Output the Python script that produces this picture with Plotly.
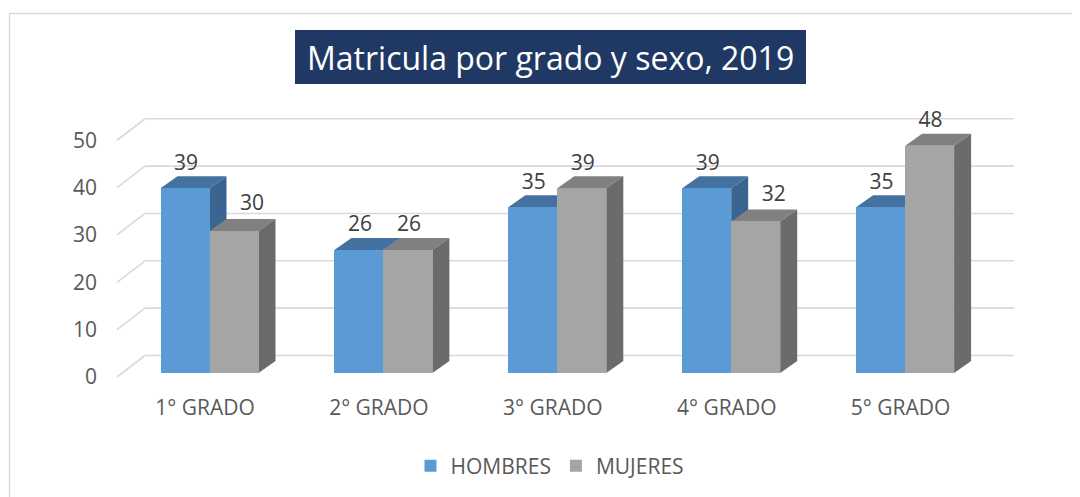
import plotly.graph_objects as go

# ---------------- data ----------------
categories = ["1° GRADO", "2° GRADO", "3° GRADO", "4° GRADO", "5° GRADO"]
hombres = [39, 26, 35, 39, 35]
mujeres = [30, 26, 39, 32, 48]
series_names = ["HOMBRES", "MUJERES"]
y_ticks = [0, 10, 20, 30, 40, 50]
title_text = "Matricula por grado y sexo, 2019"

# ---------------- style / geometry (page pixel coordinates) ----------------
PAGE_W, PAGE_H = 1080, 497
OFF = 8                                    # default body margin of the page
L, R, T, B = 112, 1020, 100, 390           # plot area in page px
PX_X = 173.9                               # px per category step
PX_Y = 4.735                               # px per value unit
X0PX = 209.5                               # px of first category centre
Y0PX = 373                                 # px of value 0 (bar front)
BAR_W = 49 / PX_X
DDX, DDY = 17 / PX_X, 12 / PX_Y            # bar depth
WALL_FRONT_X = (117 - X0PX) / PX_X
WALL_BACK_X = (145 - X0PX) / PX_X
WALL_END_X = (1014 - X0PX) / PX_X
WALL_FRONT_DY = (Y0PX - 377) / PX_Y
WALL_BACK_DY = (Y0PX - 355.5) / PX_Y

colors = {
    "HOMBRES": {"front": "#5B9BD5", "top": "#4472A0", "side": "#3B6591"},
    "MUJERES": {"front": "#A5A5A5", "top": "#808080", "side": "#6B6B6B"},
}
FONT = "Open Sans"
GRID = "#D9D9D9"


def px2paper_x(px):
    return (px - L) / (R - L)


def px2paper_y(py):
    return (B - py) / (B - T)


xs = list(range(len(categories)))
series = {"HOMBRES": hombres, "MUJERES": mujeres}
offsets = {"HOMBRES": -BAR_W, "MUJERES": 0.0}

fig = go.Figure()

shapes = []
# outer chart border
shapes.append(dict(type="rect", xref="paper", yref="paper",
                   x0=px2paper_x(9.5), x1=px2paper_x(1095), y0=px2paper_y(13.5), y1=px2paper_y(520),
                   line=dict(color=GRID, width=1.3), fillcolor="rgba(0,0,0,0)", layer="below"))
# title box
shapes.append(dict(type="rect", xref="paper", yref="paper",
                   x0=px2paper_x(295), x1=px2paper_x(806), y0=px2paper_y(30), y1=px2paper_y(84),
                   line=dict(width=0), fillcolor="#203864", layer="below"))

# back wall gridlines + side diagonals
for v in y_ticks:
    shapes.append(dict(type="line", xref="x", yref="y",
                       x0=WALL_BACK_X, x1=WALL_END_X, y0=v + WALL_BACK_DY, y1=v + WALL_BACK_DY,
                       line=dict(color=GRID, width=1.6), layer="below"))
    shapes.append(dict(type="line", xref="x", yref="y",
                       x0=WALL_FRONT_X, x1=WALL_BACK_X, y0=v + WALL_FRONT_DY, y1=v + WALL_BACK_DY,
                       line=dict(color=GRID, width=1.6), layer="below"))


def poly(pts):
    return "M " + " L ".join(f"{x:.5f},{y:.5f}" for x, y in pts) + " Z"


# 3D top and side faces
for i in xs:
    for name in series_names:
        v = series[name][i]
        x0 = i + offsets[name]
        x1 = x0 + BAR_W
        c = colors[name]
        shapes.append(dict(type="path", xref="x", yref="y", layer="below",
                           path=poly([(x0, v), (x1, v), (x1 + DDX, v + DDY), (x0 + DDX, v + DDY)]),
                           fillcolor=c["top"], line=dict(width=0)))
        shapes.append(dict(type="path", xref="x", yref="y", layer="below",
                           path=poly([(x1, 0), (x1, v), (x1 + DDX, v + DDY), (x1 + DDX, DDY)]),
                           fillcolor=c["side"], line=dict(width=0)))

# front faces
for name in series_names:
    fig.add_trace(go.Bar(
        x=xs, y=series[name], name=name, width=BAR_W, offset=offsets[name],
        marker=dict(color=colors[name]["front"], line=dict(width=0)),
        hoverinfo="skip",
    ))

# data labels (shifted right when the left neighbour bar is taller, as in the source)
for name in series_names:
    lx, ly = [], []
    for i in xs:
        v = series[name][i]
        shift = 0.0
        if name == "MUJERES" and hombres[i] > v:
            shift = DDX
        lx.append(i + offsets[name] + BAR_W / 2 + 1 / PX_X + shift)
        ly.append(v + (26 if shift else 24) / PX_Y)
    fig.add_trace(go.Scatter(
        x=lx, y=ly,
        mode="text", text=[str(v) for v in series[name]],
        textposition="middle center",
        textfont=dict(family=FONT, size=21, color="#404040"),
        showlegend=False, cliponaxis=False, hoverinfo="skip",
    ))

fig.add_annotation(
    text=title_text, xref="paper", yref="paper",
    x=px2paper_x(550.5), y=px2paper_y(57), xanchor="center", yanchor="middle",
    showarrow=False, font=dict(family=FONT, size=32, color="white"),
)

fig.update_layout(
    width=PAGE_W - OFF, height=PAGE_H - OFF,
    margin=dict(l=L - OFF, r=PAGE_W - R, t=T - OFF, b=PAGE_H - B, autoexpand=False),
    paper_bgcolor="white", plot_bgcolor="white",
    barmode="overlay", bargap=0,
    shapes=shapes,
    showlegend=True,
    legend=dict(orientation="h", x=px2paper_x(550), y=px2paper_y(466),
                xanchor="center", yanchor="middle",
                font=dict(family=FONT, size=21, color="#595959"),
                itemwidth=30, traceorder="normal", bgcolor="rgba(0,0,0,0)"),
    font=dict(family=FONT, color="#595959"),
)

fig.update_xaxes(
    range=[(L - X0PX) / PX_X, (R - X0PX) / PX_X],
    tickmode="array", tickvals=[i - 4.5 / PX_X for i in xs], ticktext=categories,
    showgrid=False, zeroline=False, showline=False, ticks="",
    ticklabelstandoff=3,
    tickfont=dict(family=FONT, size=21, color="#595959"),
    fixedrange=True,
)
fig.update_yaxes(
    range=[(Y0PX - B) / PX_Y, (Y0PX - T) / PX_Y],
    tickmode="array", tickvals=y_ticks, ticktext=[str(v) for v in y_ticks],
    showgrid=False, zeroline=False, showline=False, ticks="",
    ticklabelshift=4, ticklabelstandoff=14,
    tickfont=dict(family=FONT, size=21, color="#595959"),
    fixedrange=True,
)

fig.write_html("out.html")
